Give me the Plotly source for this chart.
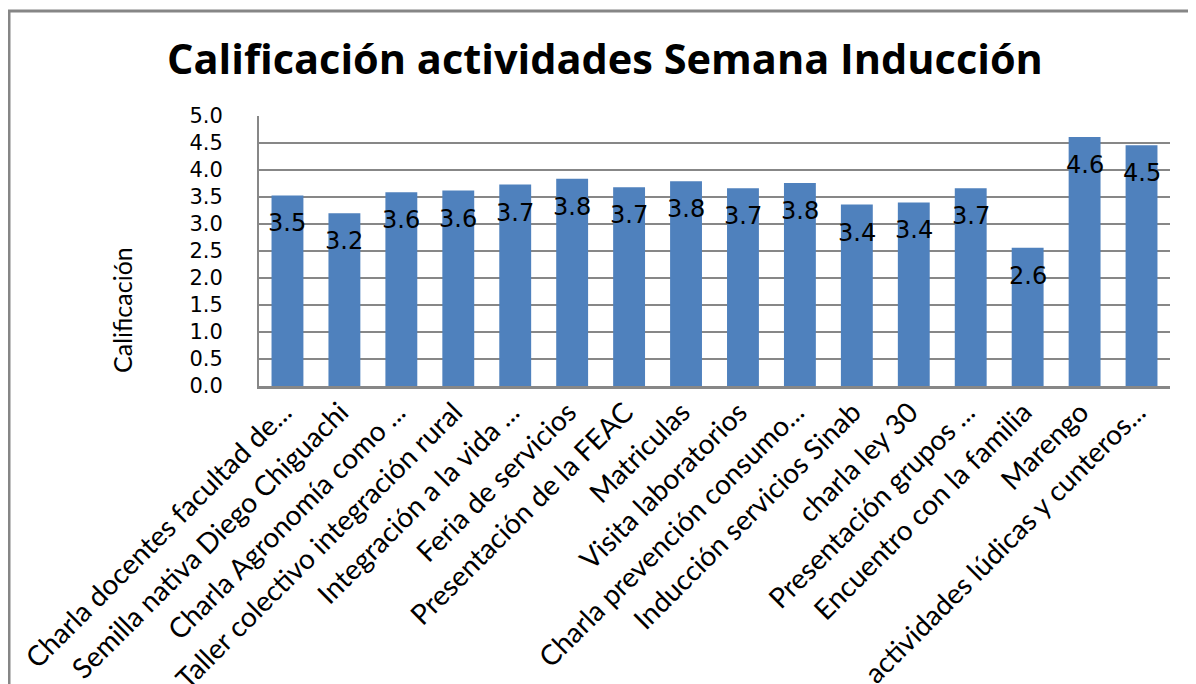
import plotly.graph_objects as go

categories = [
    "Charla docentes facultad de...",
    "Semilla nativa Diego Chiguachi",
    "Charla Agronomía como ...",
    "Taller colectivo integración rural",
    "Integración a la vida ...",
    "Feria de servicios",
    "Presentación de la FEAC",
    "Matriculas",
    "Visita laboratorios",
    "Charla prevención consumo...",
    "Inducción servicios Sinab",
    "charla ley 30",
    "Presentación grupos ...",
    "Encuentro con la familia",
    "Marengo",
    "actividades lúdicas y cunteros...",
]
values = [3.53, 3.20, 3.59, 3.62, 3.73, 3.84, 3.68, 3.79, 3.66, 3.76, 3.36, 3.40, 3.66, 2.56, 4.61, 4.46]
y_ticks = [0.0, 0.5, 1.0, 1.5, 2.0, 2.5, 3.0, 3.5, 4.0, 4.5, 5.0]

W, H = 1196, 684
OFF = 8  # page body margin
L, T = 259 - OFF, 116 - OFF
R = W - (1170 - OFF)
B = H - (386 - OFF)
pw, ph = W - L - R, H - T - B


def px_x(p):
    return (p - OFF - L) / pw


def px_y(p):
    return (H - B - (p - OFF)) / ph


fig = go.Figure()
fig.add_trace(go.Bar(x=categories, y=values, marker_color="#4F81BD",
                     marker_line_width=0, hoverinfo="x+y"))

annotations = []
for c, v in zip(categories, values):
    annotations.append(dict(x=c, y=v, xref="x", yref="y", text=f"{v:.1f}",
                            showarrow=False, yshift=-28,
                            font=dict(family="DejaVu Sans", size=24, color="#000000")))

annotations.append(dict(x=px_x(122), y=px_y(310),
                        xref="paper", yref="paper", text="Calificación", textangle=-90,
                        showarrow=False, xanchor="center", yanchor="middle",
                        font=dict(family="Lato", size=25, color="#000000")))

shapes = [dict(type="rect", xref="paper", yref="paper",
               x0=px_x(9), x1=px_x(1215), y0=px_y(11), y1=px_y(720),
               line=dict(color="#868686", width=3), fillcolor="rgba(0,0,0,0)", layer="below")]

fig.update_layout(
    width=W, height=H,
    margin=dict(l=L, r=R, t=T, b=B, autoexpand=False),
    paper_bgcolor="white", plot_bgcolor="white",
    bargap=0.44,
    showlegend=False,
    title=dict(text="<b>Calificación actividades Semana Inducción</b>",
               x=(605 - OFF) / W, xanchor="center", y=1 - (59 - OFF) / H, yanchor="middle",
               yref="container", xref="container", automargin=False,
               font=dict(family="Open Sans", size=41.5, color="#000000")),
    annotations=annotations,
    shapes=shapes,
)
fig.update_yaxes(range=[0, 5], tickvals=y_ticks, ticktext=[f"{t:.1f}" for t in y_ticks],
                 showgrid=True, gridcolor="#878787", gridwidth=1.5,
                 showline=True, linecolor="#878787", linewidth=2,
                 ticks="", ticklabelstandoff=30, zeroline=False, automargin=False,
                 tickfont=dict(family="DejaVu Sans", size=21, color="#000000"))
fig.update_xaxes(showline=True, linecolor="#878787", linewidth=2.5, tickangle=-45,
                 ticks="", showgrid=False, ticklabelshift=-4, ticklabelstandoff=-4,
                 automargin=False,
                 tickfont=dict(family="Lato", size=28, color="#000000"))

fig.write_html("out.html")
